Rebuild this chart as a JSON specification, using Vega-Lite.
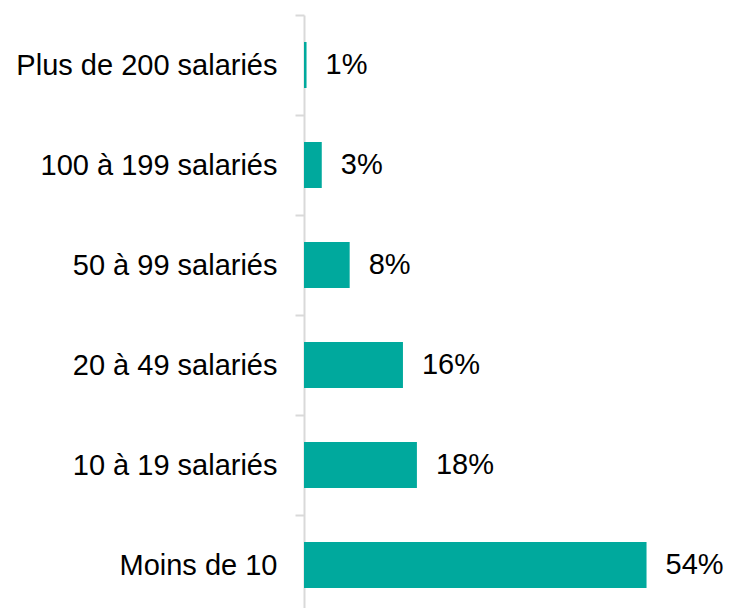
{
  "$schema": "https://vega.github.io/schema/vega-lite/v6.json",
  "width": 425,
  "height": 600,
  "autosize": {"type": "none"},
  "padding": {"left": 304, "top": 15, "right": 0, "bottom": 0},
  "background": "#ffffff",
  "config": {"view": {"stroke": null}, "font": "Liberation Sans"},
  "data": {
    "values": [
      {"categorie": "Plus de 200 salariés", "valeur": 0.4, "etiquette": "1%"},
      {"categorie": "100 à 199 salariés", "valeur": 2.8, "etiquette": "3%"},
      {"categorie": "50 à 99 salariés", "valeur": 7.2, "etiquette": "8%"},
      {"categorie": "20 à 49 salariés", "valeur": 15.6, "etiquette": "16%"},
      {"categorie": "10 à 19 salariés", "valeur": 17.8, "etiquette": "18%"},
      {"categorie": "Moins de 10", "valeur": 54, "etiquette": "54%"}
    ]
  },
  "encoding": {
    "y": {
      "field": "categorie",
      "type": "nominal",
      "sort": null,
      "scale": {"paddingInner": 0.54, "paddingOuter": 0.27},
      "axis": {
        "title": null,
        "domainColor": "#d9d9d9",
        "domainWidth": 2,
        "tickColor": "#d9d9d9",
        "tickWidth": 2,
        "tickSize": 9,
        "tickOffset": -50,
        "labelOffset": 50,
        "labelFont": "Liberation Sans",
        "labelFontSize": 29,
        "labelColor": "#000000",
        "labelPadding": 18,
        "labelLimit": 400
      }
    },
    "x": {
      "field": "valeur",
      "type": "quantitative",
      "scale": {"domain": [0, 67], "nice": false},
      "axis": null
    }
  },
  "layer": [
    {"mark": {"type": "bar", "color": "#00a99d"}},
    {
      "mark": {
        "type": "text",
        "align": "left",
        "baseline": "middle",
        "dx": 19,
        "font": "Liberation Sans",
        "fontSize": 29,
        "color": "#000000"
      },
      "encoding": {"text": {"field": "etiquette"}}
    }
  ]
}
